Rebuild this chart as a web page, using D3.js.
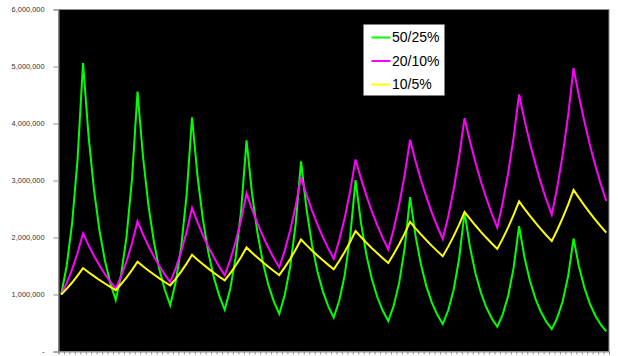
<!DOCTYPE html>
<html>
<head>
<meta charset="utf-8">
<script src="https://cdn.jsdelivr.net/npm/d3@7"></script>
<style>
  html, body { margin: 0; padding: 0; background: #ffffff; }
  svg { display: block; }
</style>
</head>
<body>
<svg id="chart" width="618" height="356"></svg>
<script>
// ---- data ----
const seriesNames = ["50/25%", "20/10%", "10/5%"];
const seriesColors = ["#00ff00", "#ff00ff", "#ffff00"];

const periods = d3.range(1, 102); // 101 periods (categories)

const s50_25 = [
  1000000, 1500000, 2250000, 3375000, 5062500, 3796875, 2847656, 2135742, 1601807, 1201355,
  901016, 1351524, 2027287, 3040930, 4561395, 3421046, 2565785, 1924339, 1443254, 1082440,
  811830, 1217745, 1826618, 2739927, 4109889, 3082417, 2311813, 1733860, 1300395, 975296,
  731472, 1097208, 1645812, 2468718, 3703077, 2777308, 2082981, 1562236, 1171677, 878758,
  659068, 988602, 1482903, 2224355, 3336532, 2502399, 1876799, 1407599, 1055699, 791775,
  593831, 890747, 1336120, 2004180, 3006269, 2254702, 1691027, 1268270, 951202, 713402,
  535051, 802577, 1203865, 1805797, 2708696, 2031522, 1523641, 1142731, 857048, 642786,
  482090, 723135, 1084703, 1627054, 2440581, 1830435, 1372827, 1029620, 772215, 579161,
  434371, 651557, 977335, 1466002, 2199003, 1649252, 1236939, 927704, 695778, 521834,
  391375, 587063, 880594, 1320891, 1981336, 1486002, 1114501, 835876, 626907, 470180,
  352635
];

const s20_10 = [
  1000000, 1200000, 1440000, 1728000, 2073600, 1866240, 1679616, 1511654, 1360489, 1224440,
  1101996, 1322395, 1586874, 1904249, 2285099, 2056589, 1850930, 1665837, 1499253, 1349328,
  1214395, 1457274, 1748729, 2098475, 2518169, 2266353, 2039717, 1835746, 1652171, 1486954,
  1338259, 1605911, 1927093, 2312512, 2775014, 2497512, 2247761, 2022985, 1820687, 1638618,
  1474756, 1769707, 2123649, 2548378, 3058054, 2752249, 2477024, 2229321, 2006389, 1805750,
  1625175, 1950210, 2340252, 2808302, 3369963, 3032967, 2729670, 2456703, 2211033, 1989929,
  1790936, 2149123, 2578948, 3094737, 3713685, 3342316, 3008085, 2707276, 2436549, 2192894,
  1973604, 2368325, 2841990, 3410388, 4092465, 3683219, 3314897, 2983407, 2685066, 2416560,
  2174904, 2609885, 3131862, 3758234, 4509881, 4058893, 3653004, 3287703, 2958933, 2663040,
  2396736, 2876083, 3451300, 4141560, 4969872, 4472885, 4025596, 3623037, 3260733, 2934660,
  2641194
];

const s10_5 = [
  1000000, 1100000, 1210000, 1331000, 1464100, 1390895, 1321350, 1255283, 1192519, 1132893,
  1076248, 1183873, 1302260, 1432486, 1575735, 1496948, 1422101, 1350995, 1283446, 1219273,
  1158310, 1274141, 1401555, 1541711, 1695882, 1611088, 1530533, 1454007, 1381306, 1312241,
  1246629, 1371292, 1508421, 1659263, 1825190, 1733930, 1647234, 1564872, 1486628, 1412297,
  1341682, 1475850, 1623435, 1785779, 1964357, 1866139, 1772832, 1684190, 1599981, 1519982,
  1443983, 1588381, 1747219, 1921941, 2114136, 2008429, 1908007, 1812607, 1721977, 1635878,
  1554084, 1709492, 1880442, 2068486, 2275334, 2161568, 2053489, 1950815, 1853274, 1760610,
  1672580, 1839838, 2023822, 2226204, 2448824, 2326383, 2210064, 2099561, 1994583, 1894854,
  1800111, 1980122, 2178134, 2395948, 2635543, 2503765, 2378577, 2259648, 2146666, 2039333,
  1937366, 2131103, 2344213, 2578634, 2836498, 2694673, 2559939, 2431942, 2310345, 2194828,
  2085086
];

const yTickValues = [0, 1000000, 2000000, 3000000, 4000000, 5000000, 6000000];
const yTickLabels = ["-", "1,000,000", "2,000,000", "3,000,000", "4,000,000", "5,000,000", "6,000,000"];

// ---- layout ----
const svg = d3.select("#chart");
const plot = { left: 58.5, right: 609, top: 9.5, bottom: 351.5 };

const x = d3.scaleBand()
  .domain(periods)
  .range([plot.left, plot.right])
  .paddingInner(0).paddingOuter(0);

const y = d3.scaleLinear()
  .domain([0, 6000000])
  .range([plot.bottom, plot.top]);

// plot background
svg.append("rect")
  .attr("x", plot.left).attr("y", plot.top)
  .attr("width", plot.right - plot.left)
  .attr("height", plot.bottom - plot.top)
  .attr("fill", "#000000")
  .attr("stroke", "#8c8c8c")
  .attr("stroke-width", 1);

// y axis
const yAxis = d3.axisLeft(y)
  .tickValues(yTickValues)
  .tickSize(5)
  .tickPadding(9)
  .tickFormat((d, i) => yTickLabels[i]);

const gy = svg.append("g")
  .attr("transform", `translate(${plot.left},0)`)
  .call(yAxis);
gy.select(".domain").attr("stroke", "#8c8c8c");
gy.selectAll(".tick line").attr("stroke", "#8c8c8c");
gy.selectAll(".tick text")
  .attr("fill", "#333333")
  .attr("font-family", "Liberation Sans, Arial, sans-serif")
  .attr("font-size", "7.4px");

// x axis (category boundaries as tick marks; labels fall below the visible area)
const boundaries = periods.map(p => x(p)).concat([plot.right]);
const xLin = d3.scaleLinear().domain([plot.left, plot.right]).range([plot.left, plot.right]);
const xAxis = d3.axisBottom(xLin)
  .tickValues(boundaries)
  .tickSize(3)
  .tickFormat("");
const gx = svg.append("g")
  .attr("transform", `translate(0,${plot.bottom})`)
  .call(xAxis);
gx.select(".domain").attr("stroke", "#8c8c8c");
gx.selectAll(".tick line").attr("stroke", "#8c8c8c");

// lines (series order: first series drawn first, last on top)
const allSeries = [s50_25, s20_10, s10_5];
const line = d3.line()
  .x((d, i) => x(periods[i]) + x.bandwidth() / 2)
  .y(d => y(d));

allSeries.forEach((data, k) => {
  svg.append("path")
    .datum(data)
    .attr("fill", "none")
    .attr("stroke", seriesColors[k])
    .attr("stroke-width", 2)
    .attr("stroke-linejoin", "miter")
    .attr("d", line);
});

// legend
const legend = svg.append("g").attr("transform", "translate(363.5,24.5)");
legend.append("rect")
  .attr("width", 81).attr("height", 71)
  .attr("fill", "#ffffff");
seriesNames.forEach((name, i) => {
  const cy = 13 + i * 23.5;
  legend.append("line")
    .attr("x1", 8).attr("x2", 27)
    .attr("y1", cy).attr("y2", cy)
    .attr("stroke", seriesColors[i])
    .attr("stroke-width", 2);
  legend.append("text")
    .attr("x", 28.5).attr("y", cy)
    .attr("dy", "0.35em")
    .attr("font-family", "Liberation Sans, Arial, sans-serif")
    .attr("font-size", "14px")
    .attr("fill", "#000000")
    .text(name);
});
</script>
</body>
</html>
